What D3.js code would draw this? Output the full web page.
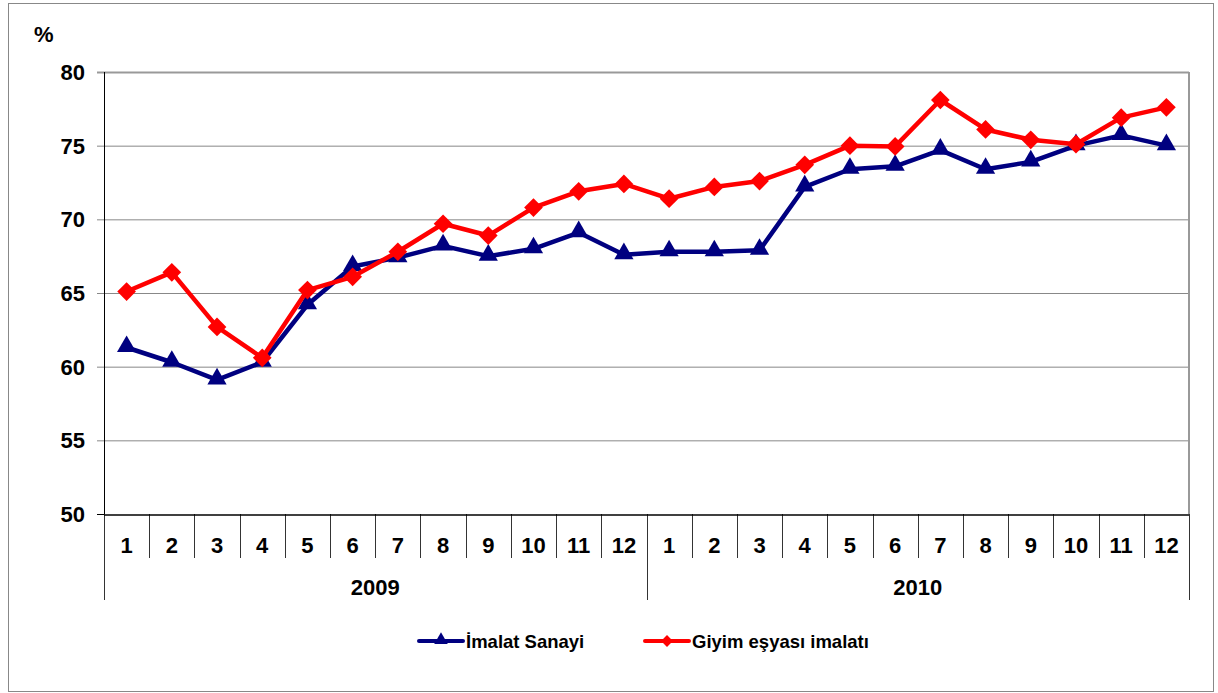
<!DOCTYPE html>
<html>
<head>
<meta charset="utf-8">
<script src="https://cdn.jsdelivr.net/npm/d3@7"></script>
<style>
  body { margin: 0; background: #fff; }
  text { font-family: "Liberation Sans", Arial, sans-serif; font-weight: bold; fill: #000; }
</style>
</head>
<body>
<svg id="chart" width="1218" height="693"></svg>
<script>
const years = ["2009", "2010"];
const months = ["1","2","3","4","5","6","7","8","9","10","11","12"];
const imalat = [61.3, 60.3, 59.1, 60.3, 64.2, 66.8, 67.4, 68.2, 67.5, 68.0, 69.1, 67.6,
                67.8, 67.8, 67.9, 72.2, 73.4, 73.6, 74.7, 73.4, 73.9, 75.0, 75.7, 75.0];
const giyim = [65.1, 66.4, 62.7, 60.6, 65.2, 66.1, 67.8, 69.7, 68.9, 70.8, 71.9, 72.4,
               71.4, 72.2, 72.6, 73.7, 75.0, 74.95, 78.1, 76.1, 75.4, 75.1, 76.9, 77.6];
const yTicks = [50, 55, 60, 65, 70, 75, 80];

const svg = d3.select("#chart");
const plotL = 104, plotR = 1189, plotT = 72, plotB = 514;

// outer frame
svg.append("rect")
  .attr("x", 8.5).attr("y", 3.5)
  .attr("width", 1205).attr("height", 688)
  .attr("fill", "none").attr("stroke", "#888").attr("stroke-width", 1);

const keys = [];
years.forEach(y => months.forEach(m => keys.push(y + "-" + m)));

const x = d3.scaleBand().domain(keys).range([plotL, plotR]);
const y = d3.scaleLinear().domain([50, 80]).range([plotB, plotT]);

// grid
svg.append("g").selectAll("line")
  .data(yTicks.filter(t => t > 50))
  .join("line")
  .attr("x1", plotL - 7).attr("x2", plotR)
  .attr("y1", d => y(d) + 0.5).attr("y2", d => y(d) + 0.5)
  .attr("stroke", d => d === 80 ? "#999" : "#888")
  .attr("stroke-width", d => d === 80 ? 2 : 1);

// right border of plot
svg.append("line")
  .attr("x1", plotR).attr("x2", plotR).attr("y1", plotT).attr("y2", plotB)
  .attr("stroke", "#999").attr("stroke-width", 2);

// y axis
svg.append("line")
  .attr("x1", plotL + 0.5).attr("x2", plotL + 0.5).attr("y1", plotT).attr("y2", plotB)
  .attr("stroke", "#000");
svg.append("line")
  .attr("x1", plotL - 7).attr("x2", plotL).attr("y1", plotB + 0.5).attr("y2", plotB + 0.5)
  .attr("stroke", "#000");

svg.append("g").selectAll("text")
  .data(yTicks)
  .join("text")
  .attr("x", 85).attr("y", d => y(d))
  .attr("dy", "0.36em")
  .attr("text-anchor", "end")
  .style("font-size", "22px")
  .text(d => d);

svg.append("text")
  .attr("x", 34).attr("y", 42)
  .style("font-size", "22px")
  .text("%");

// x axis
svg.append("line")
  .attr("x1", plotL).attr("x2", plotR).attr("y1", plotB + 1).attr("y2", plotB + 1)
  .attr("stroke", "#000").attr("stroke-width", 1.5);

svg.append("g").selectAll("line")
  .data(keys)
  .join("line")
  .attr("x1", d => Math.round(x(d)) + 0.5).attr("x2", d => Math.round(x(d)) + 0.5)
  .attr("y1", plotB)
  .attr("y2", d => d.endsWith("-1") ? 600 : 558)
  .attr("stroke", "#000").attr("stroke-width", 0.8);
svg.append("line")
  .attr("x1", plotR + 0.5).attr("x2", plotR + 0.5).attr("y1", plotB).attr("y2", 600)
  .attr("stroke", "#000").attr("stroke-width", 0.8);

svg.append("g").selectAll("text")
  .data(keys)
  .join("text")
  .attr("x", d => x(d) + x.bandwidth() / 2)
  .attr("y", 553)
  .attr("text-anchor", "middle")
  .style("font-size", "22px")
  .text(d => d.split("-")[1]);

svg.append("g").selectAll("text")
  .data(years)
  .join("text")
  .attr("x", d => (x(d + "-1") + x(d + "-12") + x.bandwidth()) / 2)
  .attr("y", 595)
  .attr("text-anchor", "middle")
  .style("font-size", "22px")
  .text(d => d);

// series
const cx = i => x(keys[i]) + x.bandwidth() / 2;
const line = d3.line().x((d, i) => cx(i)).y(d => y(d));

const tri = d3.symbol().type(d3.symbolTriangle).size(160);
const dia = d3.symbol().type(d3.symbolSquare).size(175);

function drawSeries(data, color, marker) {
  const g = svg.append("g");
  g.append("path")
    .datum(data)
    .attr("d", line)
    .attr("fill", "none")
    .attr("stroke", color)
    .attr("stroke-width", 4.5)
    .attr("stroke-linejoin", "round");
  g.selectAll("path.m")
    .data(data)
    .join("path")
    .attr("class", "m")
    .attr("d", marker === "tri" ? tri() : dia())
    .attr("transform", (d, i) => marker === "tri"
      ? `translate(${cx(i)},${y(d) - 1})`
      : `translate(${cx(i)},${y(d)}) rotate(45)`)
    .attr("fill", color);
}
drawSeries(imalat, "#000080", "tri");
drawSeries(giyim, "#ff0000", "dia");

// legend
const legend = [
  { name: "İmalat Sanayi", color: "#000080", marker: "tri", x: 419 },
  { name: "Giyim eşyası imalatı", color: "#ff0000", marker: "dia", x: 645 }
];
const lg = svg.append("g").selectAll("g").data(legend).join("g")
  .attr("transform", d => `translate(${d.x},641)`);
lg.append("line")
  .attr("x1", 0).attr("x2", 44).attr("y1", 0).attr("y2", 0)
  .attr("stroke", d => d.color).attr("stroke-width", 4).attr("stroke-linecap", "round");
lg.append("path")
  .attr("d", d => d.marker === "tri" ? d3.symbol().type(d3.symbolTriangle).size(80)() : d3.symbol().type(d3.symbolSquare).size(70)())
  .attr("transform", d => d.marker === "tri" ? "translate(22,-1)" : "translate(22,0) rotate(45)")
  .attr("fill", d => d.color);
lg.append("text")
  .attr("x", 47).attr("y", 0).attr("dy", "0.36em")
  .style("font-size", "18.5px")
  .text(d => d.name);
</script>
</body>
</html>
